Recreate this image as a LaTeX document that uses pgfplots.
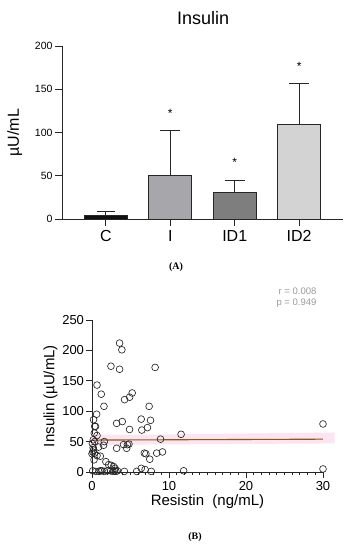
\documentclass[border=0pt]{standalone}
\usepackage{pgfplots}
\pgfplotsset{compat=1.18}
\usepackage{fontspec}
\setmainfont{Liberation Sans}
\newfontfamily\serifb{Liberation Serif}
\definecolor{barC}{HTML}{101010}
\definecolor{barI}{HTML}{A7A7AB}
\definecolor{barIDa}{HTML}{7E7E7E}
\definecolor{barIDb}{HTML}{D3D3D3}
\definecolor{regline}{HTML}{8A5A1E}
\definecolor{band}{HTML}{FCE4F0}
\definecolor{rp}{HTML}{9A9A9A}
\begin{document}
\begin{tikzpicture}
% ---------- Panel A ----------
\begin{axis}[
  at={(62pt,331pt)}, anchor=south west,
  width=281pt, height=173pt, scale only axis,
  xmin=-0.68, xmax=3.68, ymin=0, ymax=200,
  axis lines=left, axis line style={-, line width=0.8pt, black!85},
  xtick={0,1,2,3}, xticklabels={C,I,ID1,ID2},
  ytick={0,50,100,150,200},
  tick style={line width=0.8pt, black!85},
  major tick length=7pt,
  xtick align=outside, ytick align=outside,
  x tick label style={font=\fontsize{16}{16}\selectfont, yshift=-1pt},
  y tick label style={font=\fontsize{10.5}{10.5}\selectfont, xshift=1pt},
  /pgf/number format/assume math mode=true,
  clip=false,
  ybar, bar width=43pt,
  enlarge x limits=false,
]
\addplot[bar shift=0pt, draw=black!85, line width=0.7pt, fill=barC,
  error bars/.cd, y dir=plus, y explicit,
  error bar style={line width=0.7pt, black!85},
  error mark options={rotate=90, mark size=9pt, line width=0.7pt}]
  coordinates {(0,3.8) +- (0,4.7)};
\addplot[bar shift=0pt, draw=black!85, line width=0.7pt, fill=barI,
  error bars/.cd, y dir=plus, y explicit,
  error bar style={line width=0.7pt, black!85},
  error mark options={rotate=90, mark size=10pt, line width=0.7pt}]
  coordinates {(1,50.8) +- (0,52)};
\addplot[bar shift=0pt, draw=black!85, line width=0.7pt, fill=barIDa,
  error bars/.cd, y dir=plus, y explicit,
  error bar style={line width=0.7pt, black!85},
  error mark options={rotate=90, mark size=10pt, line width=0.7pt}]
  coordinates {(2,30.4) +- (0,14.2)};
\addplot[bar shift=0pt, draw=black!85, line width=0.7pt, fill=barIDb,
  error bars/.cd, y dir=plus, y explicit,
  error bar style={line width=0.7pt, black!85},
  error mark options={rotate=90, mark size=10pt, line width=0.7pt}]
  coordinates {(3,109) +- (0,47.5)};
\node[font=\fontsize{12}{12}\selectfont] at (axis cs:1,122) {*};
\node[font=\fontsize{12}{12}\selectfont] at (axis cs:2,65) {*};
\node[font=\fontsize{12}{12}\selectfont] at (axis cs:3,176) {*};
\node[font=\fontsize{16}{16}\selectfont, rotate=90] at (rel axis cs:-0.168,0.5) {µU/mL};
\node[font=\fontsize{18}{18}\selectfont] at (rel axis cs:0.502,1.16) {Insulin};
\end{axis}
\node[font=\serifb\bfseries\fontsize{10}{10}\selectfont] at (176pt,283pt) {(A)};
% ---------- Panel B ----------
\begin{axis}[
  at={(92pt,78pt)}, anchor=south west,
  width=231pt, height=152pt, scale only axis,
  xmin=0, xmax=30, ymin=0, ymax=250,
  axis lines=left, axis line style={-, line width=0.8pt, black!85},
  xtick={0,10,20,30}, minor xtick={1,2,...,29},
  ytick={0,50,100,150,200,250},
  tick style={line width=0.8pt, black!85},
  major tick length=5.5pt, minor tick length=3pt,
  xtick align=outside, ytick align=outside,
  tick label style={font=\fontsize{13}{13}\selectfont},
  y tick label style={xshift=1pt},
  /pgf/number format/assume math mode=true,
  clip=false,
  xlabel={Resistin\ \ (ng/mL)}, ylabel={Insulin (µU/mL)},
  label style={font=\fontsize{15}{15}\selectfont},
  xlabel style={yshift=2pt},
  ylabel style={yshift=-2pt},
]
\addplot[fill=band, draw=none] coordinates {(0,43) (4,45) (31.5,47) (31.5,65) (4,61) (0,62)} -- cycle;
\addplot[regline, line width=1.1pt] coordinates {(0,52.5) (30,54)};
\addplot[only marks, mark=o, mark size=3.4pt, mark options={line width=0.65pt, draw=black!85}] coordinates {
(3.58,212) (3.88,201) (2.46,174) (3.58,169) (8.2,172) (0.65,143) (1.2,128)
(5.22,130) (4.88,123) (4.23,119) (1.55,108) (7.42,108) (0.6,95) (0.2,86)
(3.2,80) (3.93,83) (6.39,87) (7.6,85) (7.2,73) (6.47,69) (4.88,70)
(0.35,75) (0.45,75) (0.3,64) (0.65,60) (0.17,53) (0.35,50) (0.05,47)
(0.86,41) (1.5,44) (1.6,50) (3.2,39) (4.1,45) (4.8,46) (4.6,45) (4.5,39)
(8.9,54) (11.57,62) (30,79) (30,5) (6.8,31) (7.0,30) (8.4,31) (9.15,33)
(7.5,21) (0.2,36) (0.1,33) (0.3,31) (0.26,20) (0.65,27) (1.08,26)
(1.8,17) (2.16,12) (2.5,11) (2.8,9) (3.0,6) (0.1,2) (0.5,1) (0.9,1)
(1.3,2) (1.6,1) (2.0,2) (2.4,2) (2.7,1) (2.9,2) (3.1,1) (3.3,2) (4.2,1)
(5.8,1) (6.4,6) (6.9,4) (7.7,1) (11.9,2) (0.15,40) (0.0,30) (1.1,2)
};
\end{axis}
\node[font=\fontsize{9.5}{9.5}\selectfont, text=rp, anchor=east] at (320pt,259pt) {r = 0.008};
\node[font=\fontsize{9.5}{9.5}\selectfont, text=rp, anchor=east] at (320pt,247pt) {p = 0.949};
\node[font=\serifb\bfseries\fontsize{10}{10}\selectfont] at (195pt,13pt) {(B)};
\pgfresetboundingbox
\path[use as bounding box] (0pt,0pt) rectangle (352pt,550pt);
\end{tikzpicture}
\end{document}
